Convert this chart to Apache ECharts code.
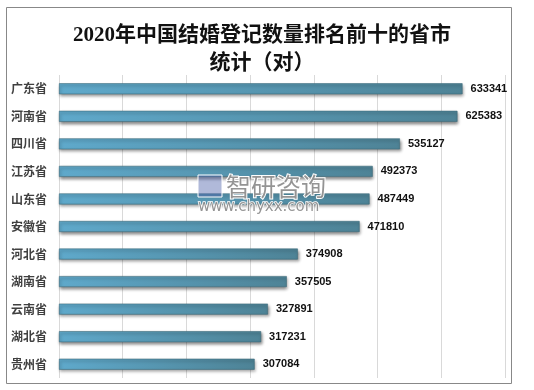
<!DOCTYPE html>
<html><head><meta charset="utf-8">
<script src="https://cdn.jsdelivr.net/npm/echarts@6/dist/echarts.min.js"></script>
<style>html,body{margin:0;padding:0;background:#fff}#c{width:534px;height:390px}</style>
</head><body><div id="c"></div>
<script>
var categories = ['广东省','河南省','四川省','江苏省','山东省','安徽省','河北省','湖南省','云南省','湖北省','贵州省'];
var values = [633341,625383,535127,492373,487449,471810,374908,357505,327891,317231,307084];
var titleText = '2020年中国结婚登记数量排名前十的省市\n统计（对）';

var chart = echarts.init(document.getElementById('c'));
chart.setOption({
  backgroundColor: '#fff',
  animation: false,
  title: {
    text: titleText, left: 257, top: 17, textAlign: 'center',
    textStyle: { fontFamily: '"Liberation Serif","Noto Sans CJK SC",serif', fontSize: 21, fontWeight: 'bold', color: '#111', lineHeight: 28 }
  },
  grid: { left: 59, right: 29, top: 75, bottom: 12, containLabel: false },
  xAxis: {
    type: 'value', min: 0, max: 700000, interval: 100000,
    axisLabel: { show: false }, axisLine: { show: false }, axisTick: { show: false },
    splitLine: { show: true, lineStyle: { color: '#d9d9d9', width: 1 } }
  },
  yAxis: {
    type: 'category', data: categories, inverse: true,
    axisLine: { show: false }, axisTick: { show: false },
    axisLabel: { color: '#404040', fontSize: 12, fontWeight: 'bold', fontFamily: '"Noto Sans CJK SC",sans-serif', margin: 12 }
  },
  series: [{
    type: 'bar', data: values, barWidth: 11,
    itemStyle: {
      color: new echarts.graphic.LinearGradient(0, 0, 1, 0, [
        { offset: 0, color: '#5fa9cb' }, { offset: 1, color: '#4e8396' }
      ]),
      borderColor: '#3e6b7c', borderWidth: 0.6,
      shadowColor: 'rgba(0,0,0,0.45)', shadowBlur: 3, shadowOffsetX: 1, shadowOffsetY: 2
    },
    label: {
      show: true, position: 'right', distance: 8, color: '#111', fontSize: 11, fontWeight: 'bold',
      fontFamily: '"Liberation Sans","Noto Sans",sans-serif'
    }
  }],
  graphic: [
    { type: 'rect', shape: { x: 6.5, y: 7.5, width: 505, height: 376 }, style: { fill: 'none', stroke: '#888', lineWidth: 1 }, z: 100 },
    { type: 'rect', shape: { x: 198, y: 175, width: 24, height: 22 }, style: { fill: 'rgba(80,100,170,0.45)', stroke: '#fff', lineWidth: 1 }, z: 100 },
    { type: 'text', style: { text: '智研咨询', x: 226, y: 186, fontSize: 25, fontFamily: '"Noto Sans CJK SC",sans-serif', fill: 'rgba(90,90,90,0.65)', stroke: '#fff', lineWidth: 2, verticalAlign: 'middle' }, z: 100 },
    { type: 'text', style: { text: 'www.chyxx.com', x: 198, y: 207, fontSize: 15, fontFamily: '"DejaVu Sans",sans-serif', fill: 'rgba(90,90,90,0.65)', stroke: '#fff', lineWidth: 1.5, verticalAlign: 'middle' }, z: 100 }
  ]
});
</script></body></html>
